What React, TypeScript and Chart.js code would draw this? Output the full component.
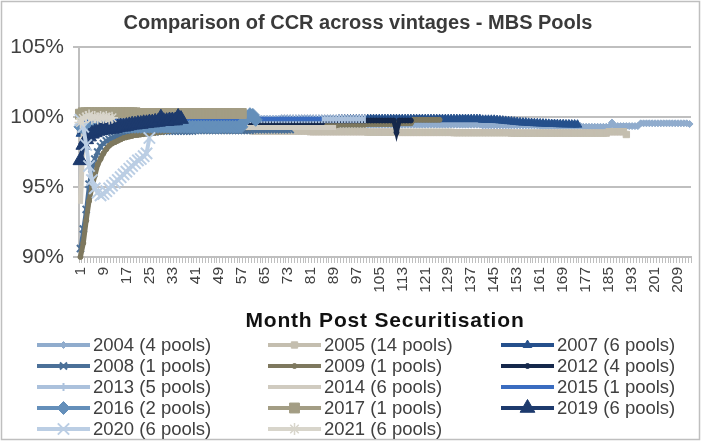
import React, { useEffect, useRef } from "react";
import { Chart, registerables } from "chart.js";
import { drawPoint } from "chart.js/helpers";

Chart.register(...registerables);

const FONT = "'Liberation Sans', Arial, sans-serif";

// Categories: month post securitisation
const months: string[] = Array.from({ length: 213 }, (_, i) => String(i + 1));
const yTickValues = [0.9, 0.95, 1.0, 1.05];

const seriesNames = [
  "2004 (4 pools)", "2005 (14 pools)", "2007 (6 pools)",
  "2008 (1 pools)", "2009 (1 pools)", "2012 (4 pools)",
  "2013 (5 pools)", "2014 (6 pools)", "2015 (1 pools)",
  "2016 (2 pools)", "2017 (1 pools)", "2019 (6 pools)",
  "2020 (6 pools)", "2021 (6 pools)",
];

// Values in percent
const v2004 = [
  99.2, 99.4, 99.5, 99.5, 99.55, 99.6, 99.6, 99.6, 99.6, 99.6,
  99.6, 99.6, 99.6, 99.6, 99.6, 99.6, 99.6, 99.6, 99.6, 99.6,
  99.6, 99.6, 99.6, 99.6, 99.6, 99.6, 99.6, 99.6, 99.6, 99.6,
  99.55, 99.55, 99.55, 99.55, 99.55, 99.55, 99.55, 99.55, 99.55, 99.55,
  99.55, 99.55, 99.55, 99.55, 99.55, 99.55, 99.55, 99.55, 99.55, 99.55,
  99.5, 99.5, 99.5, 99.5, 99.5, 99.5, 99.5, 99.5, 99.5, 99.5,
  99.5, 99.5, 99.5, 99.5, 99.5, 99.5, 99.5, 99.5, 99.5, 99.5,
  99.5, 99.5, 99.5, 99.5, 99.5, 99.5, 99.5, 99.5, 99.5, 99.5,
  99.5, 99.5, 99.5, 99.5, 99.5, 99.5, 99.5, 99.5, 99.5, 99.5,
  99.5, 99.5, 99.5, 99.5, 99.5, 99.5, 99.5, 99.5, 99.5, 99.5,
  99.45, 99.45, 99.45, 99.45, 99.45, 99.45, 99.45, 99.45, 99.45, 99.45,
  99.45, 99.45, 99.45, 99.45, 99.45, 99.45, 99.45, 99.45, 99.45, 99.45,
  99.45, 99.45, 99.45, 99.45, 99.45, 99.45, 99.45, 99.45, 99.45, 99.45,
  99.45, 99.45, 99.45, 99.45, 99.45, 99.45, 99.45, 99.45, 99.45, 99.45,
  99.4, 99.4, 99.4, 99.4, 99.4, 99.4, 99.4, 99.4, 99.4, 99.4,
  99.4, 99.4, 99.4, 99.4, 99.4, 99.4, 99.4, 99.4, 99.4, 99.4,
  99.35, 99.35, 99.35, 99.35, 99.35, 99.35, 99.35, 99.35, 99.35, 99.35,
  99.35, 99.35, 99.35, 99.35, 99.35, 99.3, 99.3, 99.3, 99.3, 99.3,
  99.3, 99.3, 99.3, 99.3, 99.3, 99.6, 99.35, 99.35, 99.35, 99.35,
  99.35, 99.35, 99.35, 99.35, 99.35, 99.55, 99.55, 99.55, 99.55, 99.55,
  99.55, 99.55, 99.55, 99.55, 99.55, 99.55, 99.55, 99.55, 99.55, 99.55,
  99.55, 99.55, 99.5,
];

const v2005 = [
  99.0, 99.2, 99.2, 99.25, 99.25, 99.25, 99.25, 99.25, 99.25, 99.25,
  99.2, 99.2, 99.2, 99.2, 99.2, 99.2, 99.2, 99.2, 99.2, 99.2,
  99.2, 99.2, 99.2, 99.2, 99.2, 99.2, 99.2, 99.2, 99.2, 99.2,
  99.15, 99.15, 99.15, 99.15, 99.15, 99.15, 99.15, 99.15, 99.15, 99.15,
  99.1, 99.1, 99.1, 99.1, 99.1, 99.1, 99.1, 99.1, 99.1, 99.1,
  99.05, 99.05, 99.05, 99.05, 99.05, 99.05, 99.05, 99.05, 99.05, 99.05,
  99.0, 99.0, 99.0, 99.0, 99.0, 99.0, 99.0, 99.0, 99.0, 99.0,
  99.0, 99.0, 99.0, 99.0, 99.0, 99.0, 99.0, 99.0, 99.0, 99.0,
  98.95, 98.95, 98.95, 98.95, 98.95, 98.95, 98.95, 98.95, 98.95, 98.95,
  98.95, 98.95, 98.95, 98.95, 98.95, 98.95, 98.95, 98.95, 98.95, 98.95,
  98.92, 98.92, 98.92, 98.92, 98.92, 98.92, 98.92, 98.92, 98.92, 98.92,
  98.9, 98.9, 98.9, 98.9, 98.9, 98.9, 98.9, 98.9, 98.9, 98.9,
  98.9, 98.9, 98.9, 98.9, 98.9, 98.9, 98.9, 98.9, 98.9, 98.9,
  98.88, 98.88, 98.88, 98.88, 98.88, 98.88, 98.88, 98.88, 98.88, 98.88,
  98.88, 98.88, 98.88, 98.88, 98.88, 98.88, 98.88, 98.88, 98.88, 98.88,
  98.85, 98.85, 98.85, 98.85, 98.85, 98.85, 98.85, 98.85, 98.85, 98.85,
  98.85, 98.85, 98.85, 98.85, 98.85, 98.85, 98.85, 98.85, 98.85, 98.85,
  98.85, 98.85, 98.85, 98.85, 98.85, 98.85, 98.85, 98.85, 98.85, 98.85,
  98.85, 98.85, 98.85, 98.85, 98.95, 98.95, 98.95, 98.95, 98.95, 98.95,
  98.75,
];

const v2007 = [
  98.8, 99.3, 99.4, 99.45, 99.5, 99.5, 99.5, 99.55, 99.55, 99.55,
  99.6, 99.6, 99.6, 99.6, 99.6, 99.6, 99.6, 99.6, 99.6, 99.6,
  99.6, 99.6, 99.6, 99.6, 99.6, 99.6, 99.6, 99.6, 99.6, 99.6,
  99.65, 99.65, 99.65, 99.65, 99.65, 99.65, 99.65, 99.65, 99.65, 99.65,
  99.7, 99.7, 99.7, 99.7, 99.7, 99.7, 99.7, 99.7, 99.7, 99.7,
  99.7, 99.7, 99.7, 99.7, 99.7, 99.7, 99.7, 99.7, 99.7, 99.7,
  99.75, 99.75, 99.75, 99.75, 99.75, 99.75, 99.75, 99.75, 99.75, 99.75,
  99.8, 99.8, 99.8, 99.8, 99.8, 99.8, 99.8, 99.8, 99.8, 99.8,
  99.8, 99.8, 99.8, 99.8, 99.8, 99.8, 99.8, 99.8, 99.8, 99.8,
  99.82, 99.82, 99.82, 99.82, 99.82, 99.82, 99.82, 99.82, 99.82, 99.82,
  99.85, 99.85, 99.85, 99.85, 99.85, 99.85, 99.85, 99.85, 99.85, 99.85,
  99.85, 99.85, 99.85, 99.85, 99.85, 99.85, 99.85, 99.85, 99.85, 99.85,
  99.85, 99.85, 99.85, 99.85, 99.85, 99.85, 99.85, 99.85, 99.85, 99.85,
  99.85, 99.85, 99.85, 99.85, 99.85, 99.85, 99.85, 99.85, 99.85, 99.85,
  99.8, 99.8, 99.8, 99.8, 99.8, 99.78, 99.76, 99.74, 99.72, 99.7,
  99.68, 99.66, 99.64, 99.62, 99.6, 99.6, 99.58, 99.57, 99.56, 99.55,
  99.54, 99.53, 99.52, 99.51, 99.5, 99.5, 99.49, 99.48, 99.48, 99.47,
  99.47, 99.46, 99.46, 99.45,
];

const v2008 = [
  90.6, 92.0, 93.4, 95.2, 96.3, 97.0, 97.5, 97.9, 98.1, 98.3,
  98.4, 98.5, 98.55, 98.6, 98.65, 98.7, 98.75, 98.8, 98.8, 98.85,
  98.85, 98.9, 98.9, 98.9, 98.95, 98.95, 98.95, 99.0, 99.0, 99.0,
  99.0, 99.0, 99.0, 99.0, 99.0, 99.0, 99.0, 99.0, 99.0, 99.0,
  99.05, 99.05, 99.05, 99.05, 99.05, 99.05, 99.05, 99.05, 99.05, 99.05,
  99.05, 99.05, 99.05, 99.05, 99.05, 99.05, 99.05, 99.05, 99.05, 99.05,
  99.1, 99.1, 99.1, 99.1, 99.1, 99.1, 99.1, 99.1, 99.1, 99.1,
  99.1, 99.1, 99.1, 99.1,
];

const v2009 = [
  90.0, 91.0, 92.6, 94.0, 95.0, 95.8, 96.6, 97.0, 97.4, 97.7,
  97.95, 98.1, 98.2, 98.3, 98.4, 98.5, 98.55, 98.6, 98.65, 98.7,
  98.72, 98.75, 98.78, 98.8, 98.82, 98.85, 98.87, 98.9, 98.92, 98.95,
  99.0, 99.0, 99.05, 99.05, 99.1, 99.1, 99.15, 99.15, 99.2, 99.2,
  99.2, 99.2, 99.2, 99.2, 99.2, 99.2, 99.2, 99.2, 99.2, 99.2,
  99.25, 99.25, 99.25, 99.25, 99.25, 99.25, 99.25, 99.25, 99.25, 99.25,
  99.3, 99.3, 99.3, 99.3, 99.3, 99.3, 99.3, 99.3, 99.3, 99.3,
  99.35, 99.35, 99.35, 99.35, 99.35, 99.35, 99.35, 99.35, 99.35, 99.35,
  99.4, 99.4, 99.4, 99.4, 99.4, 99.4, 99.4, 99.4, 99.4, 99.4,
  99.45, 99.45, 99.45, 99.45, 99.45, 99.45, 99.45, 99.45, 99.45, 99.45,
  99.5, 99.5, 99.5, 99.5, 99.5, 99.5, 99.5, 99.5, 99.5, 99.5,
  99.55, 99.55, 99.55, 99.55, 99.55, 99.55, 99.8, 99.8, 99.8, 99.8,
  99.8, 99.8, 99.8, 99.8, 99.8, 99.8,
];

const v2012 = [
  99.0, 99.3, 99.35, 99.4, 99.4, 99.4, 99.45, 99.45, 99.45, 99.45,
  99.5, 99.5, 99.5, 99.5, 99.5, 99.5, 99.5, 99.5, 99.5, 99.5,
  99.5, 99.5, 99.5, 99.5, 99.5, 99.5, 99.5, 99.5, 99.5, 99.5,
  99.5, 99.5, 99.5, 99.5, 99.5, 99.5, 99.5, 99.5, 99.5, 99.5,
  99.5, 99.5, 99.5, 99.5, 99.5, 99.5, 99.5, 99.5, 99.5, 99.5,
  99.5, 99.5, 99.5, 99.5, 99.5, 99.5, 99.5, 99.5, 99.5, 99.5,
  99.55, 99.55, 99.55, 99.55, 99.55, 99.55, 99.55, 99.55, 99.55, 99.55,
  99.55, 99.55, 99.55, 99.55, 99.55, 99.55, 99.55, 99.55, 99.55, 99.55,
  99.55, 99.55, 99.55, 99.55, 99.55, 99.75, 99.75, 99.75, 99.75, 99.75,
  99.75, 99.75, 99.75, 99.75, 99.75, 99.75, 99.75, 99.75, 99.75, 99.75,
  99.75, 99.75, 99.75, 99.75, 99.75, 99.75, 99.75, 99.75, 99.75, 99.75,
  98.9, 99.75, 99.75, 99.75, 99.75, 99.75,
];

const v2013 = [
  99.7, 99.4, 99.4, 99.5, 99.5, 99.55, 99.6, 99.6, 99.6, 99.6,
  99.65, 99.65, 99.65, 99.65, 99.65, 99.65, 99.65, 99.65, 99.65, 99.65,
  99.65, 99.65, 99.65, 99.65, 99.65, 99.65, 99.65, 99.65, 99.65, 99.65,
  99.7, 99.7, 99.7, 99.7, 99.7, 99.7, 99.7, 99.7, 99.7, 99.7,
  99.7, 99.7, 99.7, 99.7, 99.7, 99.7, 99.7, 99.7, 99.7, 99.7,
  99.7, 99.7, 99.7, 99.7, 99.7, 99.7, 99.7, 99.7, 99.7, 99.85,
  99.85, 99.85, 99.85, 99.85, 99.85, 99.85, 99.85, 99.85, 99.85, 99.85,
  99.85, 99.85, 99.85, 99.85, 99.85, 99.85, 99.85, 99.85, 99.85, 99.85,
  99.85, 99.85, 99.85, 99.85, 99.85, 99.85, 99.85, 99.85, 99.85, 99.85,
  99.85, 99.85, 99.85, 99.85, 99.85, 99.85, 99.85, 99.85, 99.85, 99.85,
];

const v2014 = [
  93.8, 99.0, 99.2, 99.2, 99.2, 99.2, 99.2, 99.2, 99.2, 99.2,
  99.25, 99.25, 99.25, 99.25, 99.25, 99.25, 99.25, 99.25, 99.25, 99.25,
  99.25, 99.25, 99.25, 99.25, 99.25, 99.25, 99.25, 99.25, 99.25, 99.25,
  99.25, 99.25, 99.25, 99.25, 99.25, 99.25, 99.25, 99.25, 99.25, 99.25,
  99.25, 99.25, 99.25, 99.25, 99.25, 99.25, 99.25, 99.25, 99.25, 99.25,
  99.25, 99.25, 99.25, 99.25, 99.25, 99.25, 99.25, 99.25, 99.25, 99.25,
  99.25, 99.25, 99.25, 99.25, 99.25, 99.25, 99.25, 99.25, 99.25, 99.25,
  99.25, 99.25, 99.25, 99.25, 99.25, 99.25, 99.25, 99.25, 99.25, 99.25,
  99.25, 99.25, 99.25, 99.25, 99.25, 99.25, 99.25, 99.25, 99.25, 99.25,
];

const v2015 = [
  99.4, 99.6, 99.7, 99.7, 99.75, 99.75, 99.75, 99.75, 99.75, 99.75,
  99.8, 99.8, 99.8, 99.8, 99.8, 99.8, 99.8, 99.8, 99.8, 99.8,
  99.8, 99.8, 99.8, 99.8, 99.8, 99.8, 99.8, 99.8, 99.8, 99.8,
  99.8, 99.8, 99.8, 99.8, 99.8, 99.8, 99.8, 99.8, 99.8, 99.8,
  99.8, 99.8, 99.8, 99.8, 99.8, 99.8, 99.8, 99.8, 99.8, 99.8,
  99.8, 99.8, 99.8, 99.8, 99.8, 99.8, 99.8, 99.8, 99.8, 99.8,
  99.8, 99.8, 99.85, 99.85, 99.85, 99.85, 99.85, 99.85, 99.85, 99.85,
  99.85, 99.85, 99.85, 99.85, 99.85, 99.85, 99.85, 99.85, 99.85, 99.85,
  99.85, 99.85, 99.85, 99.85, 99.85,
];

const v2016 = [
  99.3, 99.2, 99.2, 99.2, 99.2, 99.2, 99.2, 99.2, 99.2, 99.2,
  99.3, 99.3, 99.3, 99.3, 99.3, 99.3, 99.3, 99.3, 99.3, 99.3,
  99.3, 99.3, 99.3, 99.3, 99.3, 99.3, 99.3, 99.3, 99.3, 99.3,
  99.3, 99.3, 99.3, 99.3, 99.3, 99.3, 99.3, 99.3, 99.3, 99.3,
  99.3, 99.3, 99.3, 99.3, 99.3, 99.3, 99.3, 99.3, 99.3, 99.3,
  99.3, 99.3, 99.3, 99.3, 99.3, 99.3, 99.3, 99.7, 100.0, 100.2,
  100.15, 99.8,
];

const v2017 = [
  100.2, 100.3, 100.3, 100.3, 100.3, 100.3, 100.3, 100.3, 100.3, 100.3,
  100.3, 100.3, 100.3, 100.3, 100.3, 100.3, 100.3, 100.3, 100.3, 100.3,
  100.25, 100.25, 100.25, 100.25, 100.25, 100.25, 100.25, 100.25, 100.25, 100.25,
  100.25, 100.25, 100.25, 100.25, 100.25, 100.25, 100.25, 100.25, 100.25, 100.25,
  100.25, 100.25, 100.25, 100.25, 100.25, 100.25, 100.25, 100.25, 100.25, 100.25,
  100.25, 100.25, 100.25, 100.25, 100.25, 100.25, 100.25,
];

const v2019 = [
  96.9, 98.0, 98.4, 98.6, 98.8, 98.9, 99.0, 99.05, 99.1, 99.1,
  99.15, 99.15, 99.2, 99.25, 99.3, 99.3, 99.35, 99.4, 99.45, 99.45,
  99.5, 99.5, 99.55, 99.55, 99.6, 99.6, 99.65, 99.65, 99.95, 99.7,
  99.7, 99.75, 99.75, 99.75, 100.0, 99.85,
];

const v2020 = [
  99.8, 99.3, 98.0, 96.5, 95.5, 94.9, 94.6, 94.4, 94.5, 94.7,
  94.9, 95.1, 95.3, 95.5, 95.7, 95.9, 96.1, 96.3, 96.5, 96.7,
  96.9, 97.0, 97.2, 97.4, 98.5,
];

const v2021 = [
  99.6, 99.9, 100.0, 100.1, 99.9, 100.0, 99.9, 100.0, 99.95, 100.0,
  99.9, 99.95,
];

const seriesValues = [
  v2004, v2005, v2007, v2008, v2009, v2012, v2013,
  v2014, v2015, v2016, v2017, v2019, v2020, v2021,
];

// Styles (not data)
const styles = [
  { color: "#90ACCD", point: "rectRot", r: 3.5, bw: 1, lw: 4.5 },
  { color: "#C4BEAF", point: "rect", r: 4.5, bw: 1, lw: 5 },
  { color: "#25508C", point: "triangle", r: 5, bw: 1, lw: 4.5 },
  { color: "#4B7098", point: "crossRot", r: 5, bw: 2, lw: 4 },
  { color: "#7E785E", point: "circle", r: 2.5, bw: 1, lw: 5 },
  { color: "#15284B", point: "circle", r: 2.5, bw: 1, lw: 4.5 },
  { color: "#ABC1DC", point: "line", r: 4, bw: 2, rot: 90, lw: 4.5 },
  { color: "#D0CBC0", point: "circle", r: 0, bw: 0, lw: 5 },
  { color: "#3A6CC0", point: "circle", r: 0, bw: 0, lw: 4.5 },
  { color: "#648FBA", point: "rectRot", r: 6.5, bw: 1, lw: 4.5 },
  { color: "#A39D84", point: "rect", r: 7, bw: 1, lw: 5 },
  { color: "#1D3A6D", point: "triangle", r: 8.5, bw: 1, lw: 4.5 },
  { color: "#BBCEE4", point: "crossRot", r: 8, bw: 2, lw: 4 },
  { color: "#D8D5CB", point: "star", r: 6, bw: 1.5, lw: 4 },
];

const LEG_X = [37, 268, 501];
const LEG_Y0 = 345;
const LEG_DY = 21;

const framePlugin = {
  id: "frame",
  beforeDraw(chart: any) {
    const ctx = chart.ctx;
    ctx.save();
    ctx.fillStyle = "#ffffff";
    ctx.fillRect(0, 0, chart.width, chart.height);
    ctx.strokeStyle = "#BFBFBF";
    ctx.lineWidth = 1.5;
    ctx.strokeRect(1.5, 1.5, chart.width - 3, chart.height - 3);
    ctx.restore();
  },
  afterDraw(chart: any) {
    const ctx = chart.ctx;
    ctx.save();
    // chart title
    ctx.fillStyle = "#3A3A3A";
    ctx.font = `bold 20px ${FONT}`;
    ctx.textAlign = "center";
    ctx.textBaseline = "middle";
    ctx.fillText("Comparison of CCR across vintages - MBS Pools", 358, 23);
    // x axis title
    const area = chart.chartArea;
    ctx.fillStyle = "#111111";
    ctx.font = `bold 21px ${FONT}`;
    try { (ctx as any).letterSpacing = "0.8px"; } catch (e) {}
    ctx.fillText("Month Post Securitisation", (area.left + area.right) / 2, 321);
    try { (ctx as any).letterSpacing = "0px"; } catch (e) {}
    // legend grid
    chart.data.datasets.forEach((ds: any, i: number) => {
      const row = Math.floor(i / 3);
      const col = i % 3;
      const x0 = LEG_X[col];
      const y = LEG_Y0 + row * LEG_DY;
      ctx.strokeStyle = ds.borderColor;
      ctx.lineWidth = 4;
      ctx.lineCap = "butt";
      ctx.beginPath();
      ctx.moveTo(x0, y);
      ctx.lineTo(x0 + 53, y);
      ctx.stroke();
      if (ds.pointRadius > 0) {
        ctx.fillStyle = ds.pointBackgroundColor;
        ctx.strokeStyle = ds.pointBorderColor;
        ctx.lineWidth = ds.pointBorderWidth;
        drawPoint(ctx, {
          pointStyle: ds.pointStyle,
          radius: ds.pointRadius,
          rotation: ds.pointRotation || 0,
          borderWidth: ds.pointBorderWidth,
        } as any, x0 + 26.5, y);
      }
      ctx.fillStyle = "#404040";
      ctx.font = `18.5px ${FONT}`;
      ctx.textAlign = "left";
      ctx.textBaseline = "middle";
      ctx.fillText(ds.label, x0 + 56, y + 1);
    });
    ctx.restore();
  },
};

function App() {
  const ref = useRef<HTMLCanvasElement | null>(null);
  useEffect(() => {
    if (!ref.current) return;
    const n = seriesValues.length;
    const datasets = seriesValues.map((vals, i) => {
      const s: any = styles[i];
      return {
        label: seriesNames[i],
        data: vals.map((v) => v / 100),
        borderColor: s.color,
        backgroundColor: s.color,
        borderWidth: s.lw,
        pointStyle: s.point,
        pointRadius: s.r,
        pointRotation: s.rot || 0,
        pointBorderWidth: s.bw,
        pointBackgroundColor: s.color,
        pointBorderColor: s.color,
        pointHoverRadius: s.r,
        tension: 0,
        fill: false,
        clip: false,
        order: n - i,
      };
    });
    const chart = new Chart(ref.current, {
      type: "line",
      data: { labels: months, datasets },
      plugins: [framePlugin],
      options: {
        responsive: false,
        animation: false,
        events: [],
        layout: { padding: { top: 47, right: 4, bottom: 106, left: 0 } },
        plugins: {
          legend: { display: false },
          title: { display: false },
          tooltip: { enabled: false },
        },
        scales: {
          x: {
            type: "category",
            offset: true,
            grid: {
              display: true,
              drawOnChartArea: false,
              drawTicks: true,
              tickLength: 6,
              color: "#BFBFBF",
              lineWidth: 1,
              offset: true,
            },
            border: { display: true, color: "#BFBFBF", width: 2 },
            ticks: {
              autoSkip: false,
              minRotation: 90,
              maxRotation: 90,
              padding: 4,
              color: "#404040",
              font: { family: FONT, size: 15.5 },
              callback: (_v: any, i: number) => (i % 8 === 0 ? months[i] : ""),
            },
            title: { display: false },
            afterFit: (s: any) => {
              s.height = 78;
              s.paddingLeft = 0;
              s.paddingRight = 0;
            },
          },
          y: {
            type: "linear",
            min: 0.9,
            max: 1.05,
            grid: {
              color: "#BFBFBF",
              lineWidth: 2,
              drawTicks: true,
              tickLength: 6,
            },
            border: { display: true, color: "#BFBFBF", width: 2 },
            ticks: {
              padding: 9,
              color: "#404040",
              font: { family: FONT, size: 21 },
              callback: (v: any) => Math.round(Number(v) * 100) + "%",
            },
            afterBuildTicks: (s: any) => {
              s.ticks = yTickValues.map((v) => ({ value: v }));
            },
            afterFit: (s: any) => {
              s.width = 79;
              s.paddingTop = 0;
              s.paddingBottom = 0;
            },
          },
        },
      } as any,
    });
    return () => chart.destroy();
  }, []);
  return (
    <div style={{ position: "fixed", left: 0, top: 0, width: 701, height: 441, background: "#fff" }}>
      <canvas ref={ref} width={701} height={441} style={{ display: "block" }} />
    </div>
  );
}

export default App;
